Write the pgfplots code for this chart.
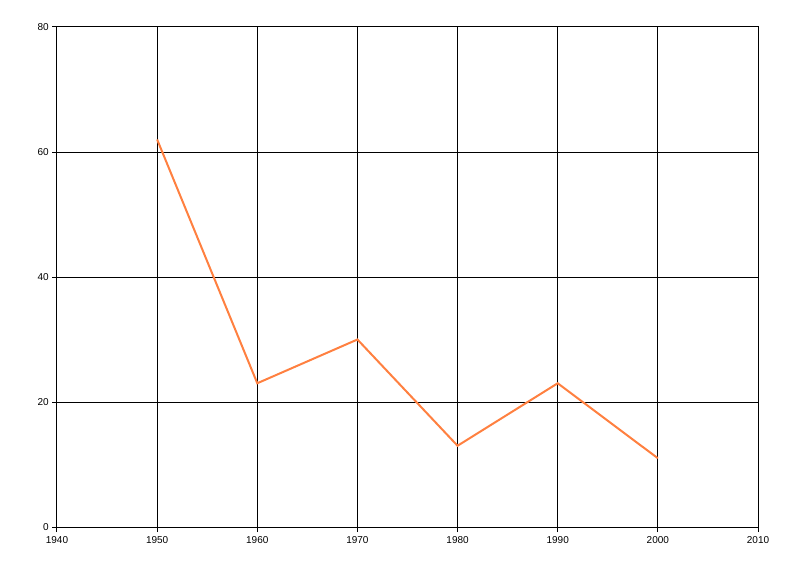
\documentclass[border=0pt]{standalone}
\usepackage{fontspec}
\setmainfont{Liberation Sans}
\usepackage{pgfplots}
\pgfplotsset{compat=1.18}
\definecolor{lineorange}{RGB}{255,128,64}

\begin{document}
\begin{tikzpicture}
    % fix page size to the reference proportions (1px = 0.75pt)
    \path[use as bounding box] (-42.75pt,-36.75pt) rectangle (557.25pt,395.25pt);
    \begin{axis}[
        at={(0,0)}, anchor=south west,
        scale only axis,
        width=525.75pt,
        height=375pt,
        xmin=1940, xmax=2010,
        ymin=0, ymax=80,
        xtick={1940,1950,...,2010},
        ytick={0,20,...,80},
        grid=major,
        grid style={black, line width=0.75pt},
        axis line style={black, line width=0.75pt},
        tick style={black, line width=0.75pt},
        tick align=outside,
        major tick length=3.75pt,
        xtick pos=bottom, ytick pos=left,
        /pgf/number format/1000 sep={},
        /pgf/number format/assume math mode=true,
        tick label style={font=\fontsize{7.5}{8}\selectfont},
        xticklabel style={yshift=0.5pt},
        yticklabel style={xshift=1pt},
        clip=false,
    ]
    \addplot[color=lineorange, line width=1.5pt, mark=none] coordinates {
        (1950,62) (1960,23) (1970,30) (1980,13) (1990,23) (2000,11)
    };
    \end{axis}
\end{tikzpicture}
\end{document}
